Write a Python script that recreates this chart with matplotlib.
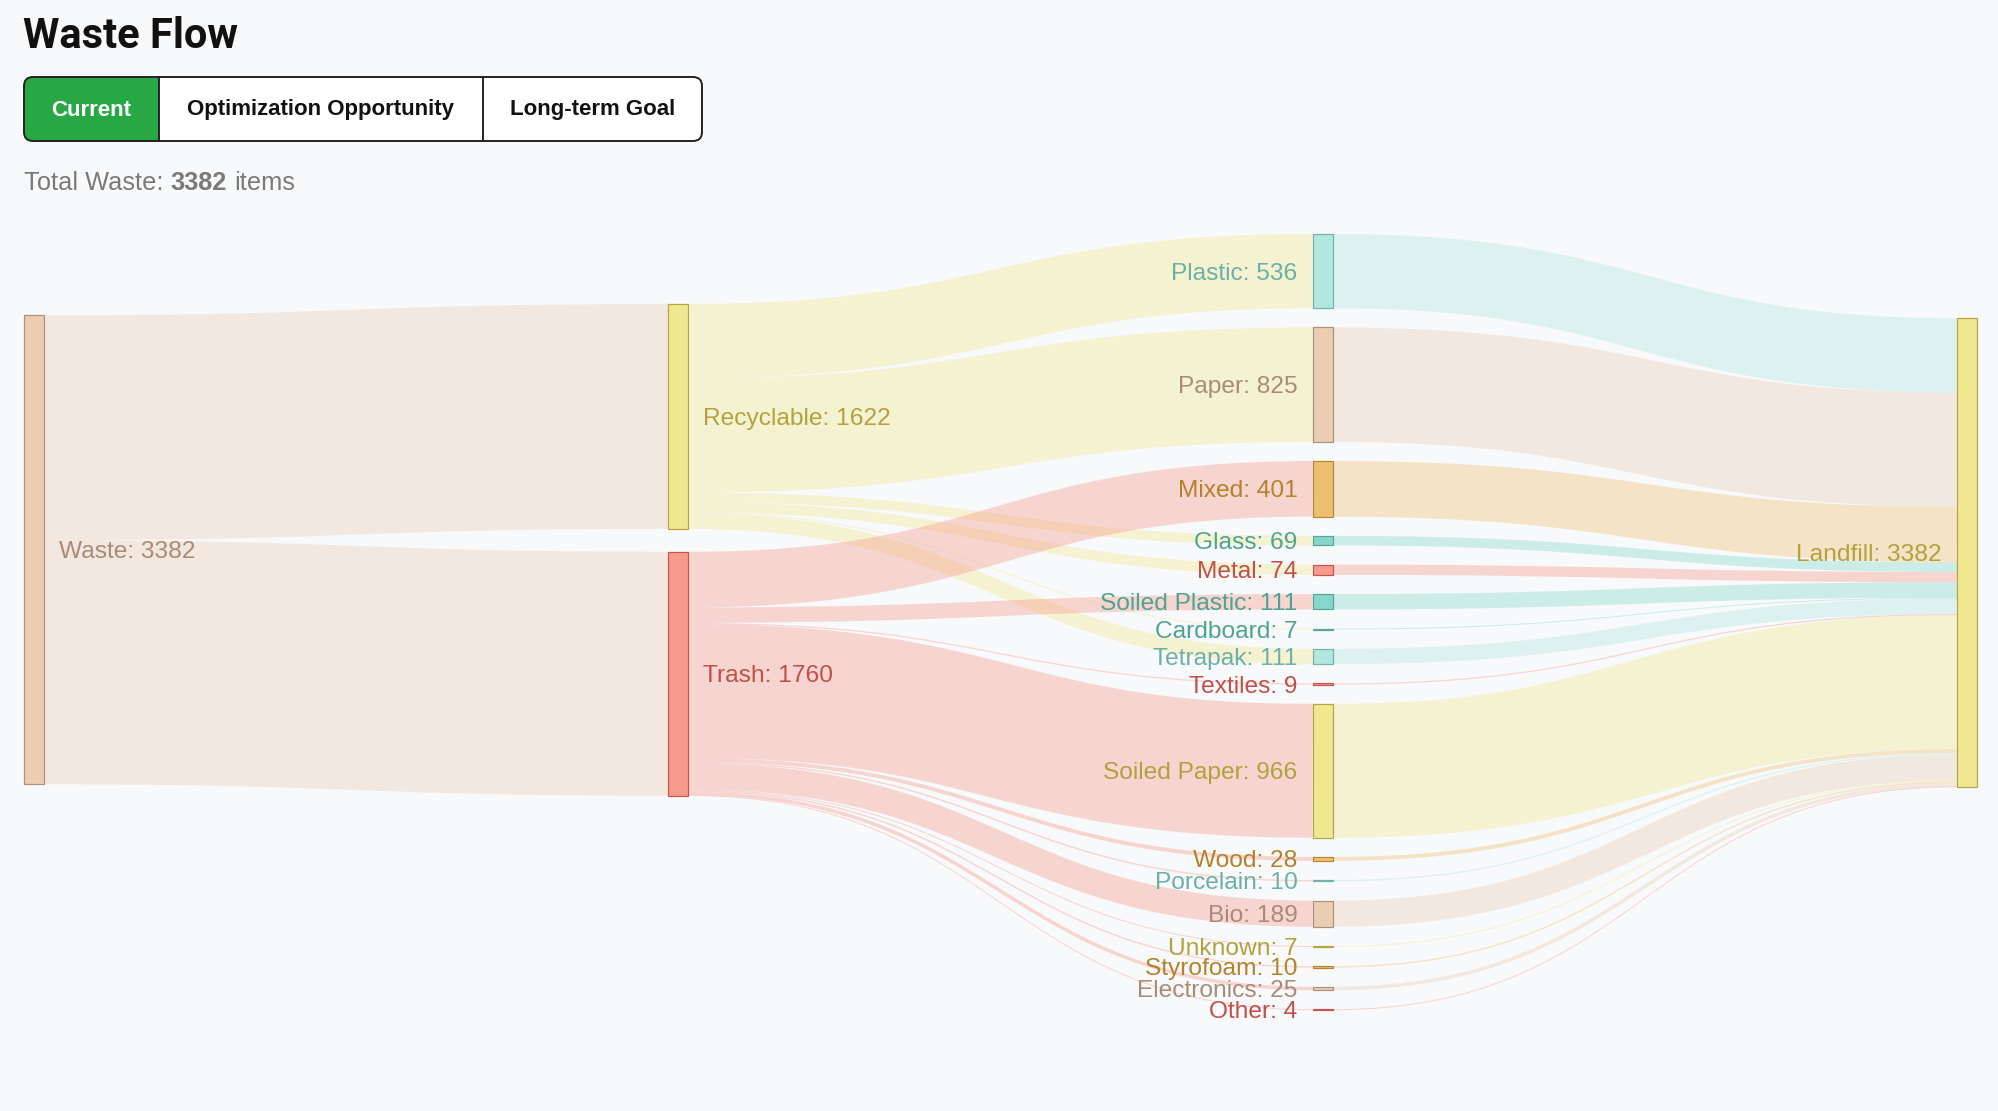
import matplotlib
matplotlib.use("Agg")
import matplotlib.pyplot as plt
from matplotlib.path import Path
from matplotlib.patches import PathPatch, FancyBboxPatch, Rectangle

# ---- data ----
recyclable_parts = ["Plastic", "Paper", "Glass", "Metal", "Cardboard", "Tetrapak"]
recyclable_vals = [536, 825, 69, 74, 7, 111]
trash_parts = ["Mixed", "Soiled Plastic", "Textiles", "Soiled Paper", "Wood", "Porcelain",
               "Bio", "Unknown", "Styrofoam", "Electronics", "Other"]
trash_vals = [401, 111, 9, 966, 28, 10, 189, 7, 10, 25, 4]

# order in which the nodes are handed to the layout (top to bottom per column)
node_order = ["Waste", "Recyclable", "Trash", "Plastic", "Paper", "Mixed", "Glass", "Metal",
              "Soiled Plastic", "Cardboard", "Tetrapak", "Textiles", "Soiled Paper", "Wood",
              "Porcelain", "Bio", "Unknown", "Styrofoam", "Electronics", "Other", "Landfill"]

buttons = ["Current", "Optimization Opportunity", "Long-term Goal"]

# palette: (node fill, label colour)
PEACH = ("#EBCBB0", "#A88C78")
KHAKI = ("#F0E68C", "#B1A23F")
SALMON = ("#F59587", "#C0504A")
LTEAL = ("#AEE7DF", "#6BB1A5")
ORANGE = ("#EDBD6A", "#B3822D")
TEAL = ("#7FD6C7", "#4FA394")
node_colors = {
    "Waste": PEACH, "Recyclable": KHAKI, "Trash": SALMON, "Plastic": LTEAL, "Paper": PEACH,
    "Mixed": ORANGE, "Glass": TEAL, "Metal": SALMON, "Soiled Plastic": TEAL, "Cardboard": TEAL,
    "Tetrapak": LTEAL, "Textiles": SALMON, "Soiled Paper": KHAKI, "Wood": ORANGE,
    "Porcelain": LTEAL, "Bio": PEACH, "Unknown": KHAKI, "Styrofoam": ORANGE,
    "Electronics": PEACH, "Other": SALMON, "Landfill": KHAKI,
}

links = [("Waste", "Recyclable", sum(recyclable_vals)), ("Waste", "Trash", sum(trash_vals))]
links += [("Recyclable", p, v) for p, v in zip(recyclable_parts, recyclable_vals)]
links += [("Trash", p, v) for p, v in zip(trash_parts, trash_vals)]
links += [(p, "Landfill", v) for p, v in zip(recyclable_parts + trash_parts, recyclable_vals + trash_vals)]


def sankey_layout(names, link_list, x0, y0, x1, y1, nw, pad, iterations=6):
    # straight port of d3-sankey's layout
    nodes = [{"name": n, "index": i, "src": [], "tgt": []} for i, n in enumerate(names)]
    by_name = {n["name"]: n for n in nodes}
    lks = []
    for i, (s, t, v) in enumerate(link_list):
        lk = {"source": by_name[s], "target": by_name[t], "value": v, "index": i}
        lk["source"]["src"].append(lk)
        lk["target"]["tgt"].append(lk)
        lks.append(lk)
    for n in nodes:
        n["value"] = max(sum(l["value"] for l in n["src"]), sum(l["value"] for l in n["tgt"]))

    current = set(range(len(nodes)))
    depth = 0
    while current:
        nxt = set()
        for i in current:
            nodes[i]["depth"] = depth
            for l in nodes[i]["src"]:
                nxt.add(l["target"]["index"])
        current = nxt
        depth += 1
    ncol = depth
    kx = (x1 - x0 - nw) / (ncol - 1)
    columns = [[] for _ in range(ncol)]
    for n in nodes:
        n["layer"] = n["depth"] if n["src"] else ncol - 1
        n["x0"] = x0 + n["layer"] * kx
        n["x1"] = n["x0"] + nw
        columns[n["layer"]].append(n)

    py = min(pad, (y1 - y0) / (max(len(c) for c in columns) - 1))

    def by_target(l):
        return (l["target"].get("y0", 0), l["index"])

    def by_source(l):
        return (l["source"].get("y0", 0), l["index"])

    def reorder_links(col):
        for n in col:
            n["src"].sort(key=by_target)
            n["tgt"].sort(key=by_source)

    def reorder_node_links(node):
        for l in node["tgt"]:
            l["source"]["src"].sort(key=by_target)
        for l in node["src"]:
            l["target"]["tgt"].sort(key=by_source)

    ky = min((y1 - y0 - (len(c) - 1) * py) / sum(n["value"] for n in c) for c in columns)
    for c in columns:
        y = y0
        for n in c:
            n["y0"] = y
            n["y1"] = y + n["value"] * ky
            y = n["y1"] + py
            for l in n["src"]:
                l["width"] = l["value"] * ky
        y = (y1 - y + py) / (len(c) + 1)
        for i, n in enumerate(c):
            n["y0"] += y * (i + 1)
            n["y1"] += y * (i + 1)
        reorder_links(c)

    def target_top(source, target):
        y = source["y0"] - (len(source["src"]) - 1) * py / 2
        for l in source["src"]:
            if l["target"] is target:
                break
            y += l["width"] + py
        for l in target["tgt"]:
            if l["source"] is source:
                break
            y -= l["width"]
        return y

    def source_top(source, target):
        y = target["y0"] - (len(target["tgt"]) - 1) * py / 2
        for l in target["tgt"]:
            if l["source"] is source:
                break
            y += l["width"] + py
        for l in source["src"]:
            if l["target"] is target:
                break
            y -= l["width"]
        return y

    def top_to_bottom(col, y, i, alpha):
        while i < len(col):
            n = col[i]
            dy = (y - n["y0"]) * alpha
            if dy > 1e-6:
                n["y0"] += dy
                n["y1"] += dy
            y = n["y1"] + py
            i += 1

    def bottom_to_top(col, y, i, alpha):
        while i >= 0:
            n = col[i]
            dy = (n["y1"] - y) * alpha
            if dy > 1e-6:
                n["y0"] -= dy
                n["y1"] -= dy
            y = n["y0"] - py
            i -= 1

    def resolve(col, alpha):
        i = len(col) >> 1
        subject = col[i]
        bottom_to_top(col, subject["y0"] - py, i - 1, alpha)
        top_to_bottom(col, subject["y1"] + py, i + 1, alpha)
        bottom_to_top(col, y1, len(col) - 1, alpha)
        top_to_bottom(col, y0, 0, alpha)

    for it in range(iterations):
        alpha = 0.99 ** it
        beta = max(1 - alpha, (it + 1) / iterations)
        for ci in range(ncol - 2, -1, -1):
            col = columns[ci]
            for s in col:
                y = w = 0
                for l in s["src"]:
                    v = l["value"] * (l["target"]["layer"] - s["layer"])
                    y += source_top(s, l["target"]) * v
                    w += v
                if w > 0:
                    dy = (y / w - s["y0"]) * alpha
                    s["y0"] += dy
                    s["y1"] += dy
                    reorder_node_links(s)
            col.sort(key=lambda n: n["y0"])
            resolve(col, beta)
        for ci in range(1, ncol):
            col = columns[ci]
            for t in col:
                y = w = 0
                for l in t["tgt"]:
                    v = l["value"] * (t["layer"] - l["source"]["layer"])
                    y += target_top(l["source"], t) * v
                    w += v
                if w > 0:
                    dy = (y / w - t["y0"]) * alpha
                    t["y0"] += dy
                    t["y1"] += dy
                    reorder_node_links(t)
            col.sort(key=lambda n: n["y0"])
            resolve(col, beta)

    for n in nodes:
        a = b = n["y0"]
        for l in n["src"]:
            l["y0"] = a + l["width"] / 2
            a += l["width"]
        for l in n["tgt"]:
            l["y1"] = b + l["width"] / 2
            b += l["width"]
    return nodes, lks


W, H = 1999, 1111
fig = plt.figure(figsize=(W / 100, H / 100), dpi=100)
fig.patch.set_facecolor("#F8F9FA")
ax = fig.add_axes([0, 0, 1, 1])
ax.set_xlim(0, W)
ax.set_ylim(H, 0)
ax.axis("off")
PT = 0.72  # points per pixel at dpi 100

LABEL_FONT = "Liberation Sans"
LABEL_PX = 24.5

# header
ax.text(23, 48, "Waste Flow", fontsize=30, fontweight="bold", family="Roboto",
        color="#111111", ha="left", va="baseline")

bx0, bx1, by0, by1 = 24, 702, 77, 141
edges = [24, 159, 483, 702]
outer = FancyBboxPatch((bx0, by0), bx1 - bx0, by1 - by0,
                       boxstyle="round,pad=0,rounding_size=9",
                       fc="white", ec="none", zorder=2)
ax.add_patch(outer)
green = Rectangle((edges[0], by0), edges[1] - edges[0], by1 - by0, fc="#28A745", ec="none", zorder=3)
ax.add_patch(green)
green.set_clip_path(outer)
for xd in edges[1:-1]:
    ax.plot([xd, xd], [by0, by1], color="#222222", lw=1.4, zorder=4)
ax.add_patch(FancyBboxPatch((bx0, by0), bx1 - bx0, by1 - by0,
                            boxstyle="round,pad=0,rounding_size=9",
                            fc="none", ec="#222222", lw=1.4, zorder=5))
for i, label in enumerate(buttons):
    ax.text((edges[i] + edges[i + 1]) / 2, (by0 + by1) / 2 + 1, label,
            fontsize=16, fontweight="bold", family=LABEL_FONT,
            color="white" if i == 0 else "#111111", ha="center", va="center", zorder=6)

r = fig.canvas.get_renderer()
total = sum(recyclable_vals) + sum(trash_vals)
x = 24
for piece, wgt in [("Total Waste:", "normal"), (" ", "normal"), (str(total), "bold"), (" ", "normal"), ("items", "normal")]:
    if piece == " ":
        x += 25.4 * 0.278
        continue
    t = ax.text(x, 190, piece, fontsize=18.3, fontweight=wgt, family=LABEL_FONT,
                color="#7A7A7A", ha="left", va="baseline")
    x = t.get_window_extent(renderer=r).x1

# sankey
nodes, lks = sankey_layout(node_order, links, 24, 234, 1977, 1010, 20, 19.2)

for l in lks:
    s, t = l["source"], l["target"]
    xa, xb = s["x1"], t["x0"]
    xm = (xa + xb) / 2
    path = Path([(xa, l["y0"]), (xm, l["y0"]), (xm, l["y1"]), (xb, l["y1"])],
                [Path.MOVETO, Path.CURVE4, Path.CURVE4, Path.CURVE4])
    ax.add_patch(PathPatch(path, fill=False, ec=node_colors[s["name"]][0], alpha=0.36,
                           lw=max(l["width"], 1) * PT, capstyle="butt", zorder=1))

for n in nodes:
    fill, dark = node_colors[n["name"]]
    ax.add_patch(Rectangle((n["x0"], n["y0"]), n["x1"] - n["x0"], max(n["y1"] - n["y0"], 0.5),
                           fc=fill, ec=dark, lw=1.2 * PT, alpha=0.95, zorder=3))
    # d3 style: baseline at node centre + 0.35em
    ym = (n["y0"] + n["y1"]) / 2 + 0.35 * LABEL_PX
    if n["x0"] < W / 2:
        ax.text(n["x1"] + 15, ym, f"{n['name']}: {n['value']}", ha="left", va="baseline",
                fontsize=LABEL_PX * PT, family=LABEL_FONT, color=dark, zorder=6)
    else:
        ax.text(n["x0"] - 15, ym, f"{n['name']}: {n['value']}", ha="right", va="baseline",
                fontsize=LABEL_PX * PT, family=LABEL_FONT, color=dark, zorder=6)

fig.savefig("out.png", dpi=100, facecolor=fig.get_facecolor())
